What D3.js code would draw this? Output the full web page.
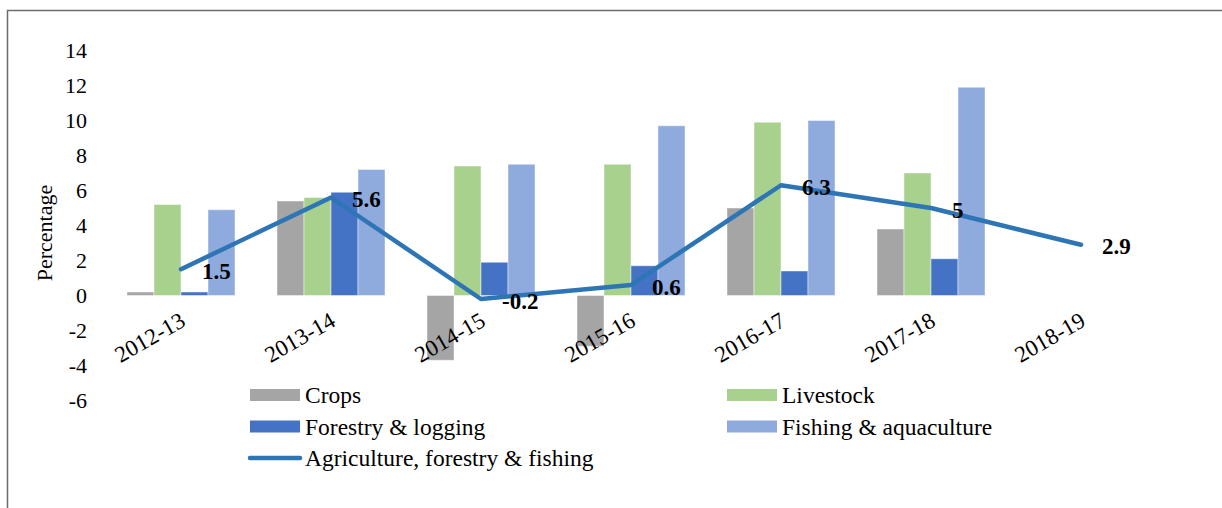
<!DOCTYPE html>
<html>
<head>
<meta charset="utf-8">
<script src="https://cdn.jsdelivr.net/npm/d3@7"></script>
<style>
  html, body { margin: 0; padding: 0; background: #fff; }
  svg { display: block; }
  svg text { font-family: "Liberation Serif", "Times New Roman", Tinos, "DejaVu Serif", serif; }
</style>
</head>
<body>
<svg id="chart" width="1222" height="508"></svg>
<script>
// Growth rates by sub-sector (percent)
const years = ["2012-13", "2013-14", "2014-15", "2015-16", "2016-17", "2017-18", "2018-19"];
const crops = [0.2, 5.4, -3.7, -2.9, 5.0, 3.8, null];
const livestock = [5.2, 5.6, 7.4, 7.5, 9.9, 7.0, null];
const forestry = [0.2, 5.9, 1.9, 1.7, 1.4, 2.1, null];
const fishing = [4.9, 7.2, 7.5, 9.7, 10.0, 11.9, null];
const overall = [1.5, 5.6, -0.2, 0.6, 6.3, 5, 2.9];
const yTicks = [-6, -4, -2, 0, 2, 4, 6, 8, 10, 12, 14];

const seriesNames = ["Crops", "Livestock", "Forestry & logging", "Fishing & aquaculture"];
const seriesValues = [crops, livestock, forestry, fishing];
const seriesColors = ["#A5A5A5", "#A9D18E", "#4472C4", "#8FAADC"];
const lineName = "Agriculture, forestry & fishing";
const lineColor = "#2E75B6";

const svg = d3.select("#chart");

// Outer frame (top and left edges visible)
svg.append("path")
  .attr("d", "M7.5,508V10.5H1222")
  .attr("fill", "none")
  .attr("stroke", "#6b6b6b")
  .attr("stroke-width", 1.5);

const x0 = d3.scaleBand().domain(years).range([106, 1156])
  .paddingInner(0.28).paddingOuter(0.14);
const x1 = d3.scaleBand().domain(seriesNames).range([0, x0.bandwidth()]);
const y = d3.scaleLinear().domain([-6, 14]).range([400.5, 50.5]);

// Y axis: labels only, plain hyphen for negatives
const yAxis = d3.axisLeft(y).tickValues(yTicks).tickSize(0).tickPadding(0)
  .tickFormat(d => String(d));
const gy = svg.append("g").attr("transform", "translate(87,0)").call(yAxis);
gy.attr("font-family", null).attr("font-size", null);
gy.select(".domain").remove();
gy.selectAll("text")
  .attr("font-size", 22).attr("fill", "#000").attr("dy", "0.34em");

svg.append("text")
  .attr("transform", "translate(52,233) rotate(-90)")
  .attr("text-anchor", "middle")
  .attr("font-size", 22).attr("fill", "#000")
  .text("Percentage");

// Bars
const barData = [];
years.forEach((yr, i) => {
  seriesNames.forEach((s, k) => {
    const v = seriesValues[k][i];
    if (v !== null) barData.push({ yr, s, v, k });
  });
});
svg.append("g").selectAll("rect").data(barData).join("rect")
  .attr("x", d => x0(d.yr) + x1(d.s))
  .attr("width", x1.bandwidth())
  .attr("y", d => y(Math.max(0, d.v)))
  .attr("height", d => Math.abs(y(d.v) - y(0)))
  .attr("fill", d => seriesColors[d.k])
  .attr("stroke", "#fff").attr("stroke-opacity", 0.45).attr("stroke-width", 1);

// X axis labels (rotated)
const cx = d => x0(d) + x0.bandwidth() / 2;
svg.append("g").selectAll("text").data(years).join("text")
  .attr("transform", d => `translate(${cx(d) + 6},325) rotate(-30)`)
  .attr("text-anchor", "end")
  .attr("font-size", 23).attr("fill", "#000")
  .text(d => d);

// Total line
const line = d3.line().x((d, i) => cx(years[i])).y(d => y(d));
svg.append("path")
  .datum(overall)
  .attr("d", line)
  .attr("fill", "none")
  .attr("stroke", lineColor)
  .attr("stroke-width", 4.5)
  .attr("stroke-linejoin", "round")
  .attr("stroke-linecap", "round");

// Data labels for the line
svg.append("g").selectAll("text").data(overall).join("text")
  .attr("x", (d, i) => cx(years[i]) + 21)
  .attr("y", d => y(d) + 1.5)
  .attr("dy", "0.35em")
  .attr("font-size", 23).attr("font-weight", "bold").attr("fill", "#000")
  .text(d => String(d));

// Legend
const legendItems = [
  { name: "Crops", color: seriesColors[0], x: 250, row: 0, type: "bar" },
  { name: "Livestock", color: seriesColors[1], x: 727, row: 0, type: "bar" },
  { name: "Forestry & logging", color: seriesColors[2], x: 250, row: 1, type: "bar" },
  { name: "Fishing & aquaculture", color: seriesColors[3], x: 727, row: 1, type: "bar" },
  { name: lineName, color: lineColor, x: 250, row: 2, type: "line" }
];
const lg = svg.append("g").selectAll("g").data(legendItems).join("g")
  .attr("transform", d => `translate(${d.x},${395 + d.row * 31.5})`);
lg.filter(d => d.type === "bar").append("rect")
  .attr("x", 0).attr("y", -6).attr("width", 50).attr("height", 12)
  .attr("fill", d => d.color);
lg.filter(d => d.type === "line").append("line")
  .attr("x1", 0).attr("x2", 50).attr("y1", 0).attr("y2", 0)
  .attr("stroke", d => d.color).attr("stroke-width", 4.5)
  .attr("stroke-linecap", "round");
lg.append("text")
  .attr("x", 55).attr("y", 8)
  .attr("font-size", 23.5).attr("fill", "#000")
  .text(d => d.name);
</script>
</body>
</html>
